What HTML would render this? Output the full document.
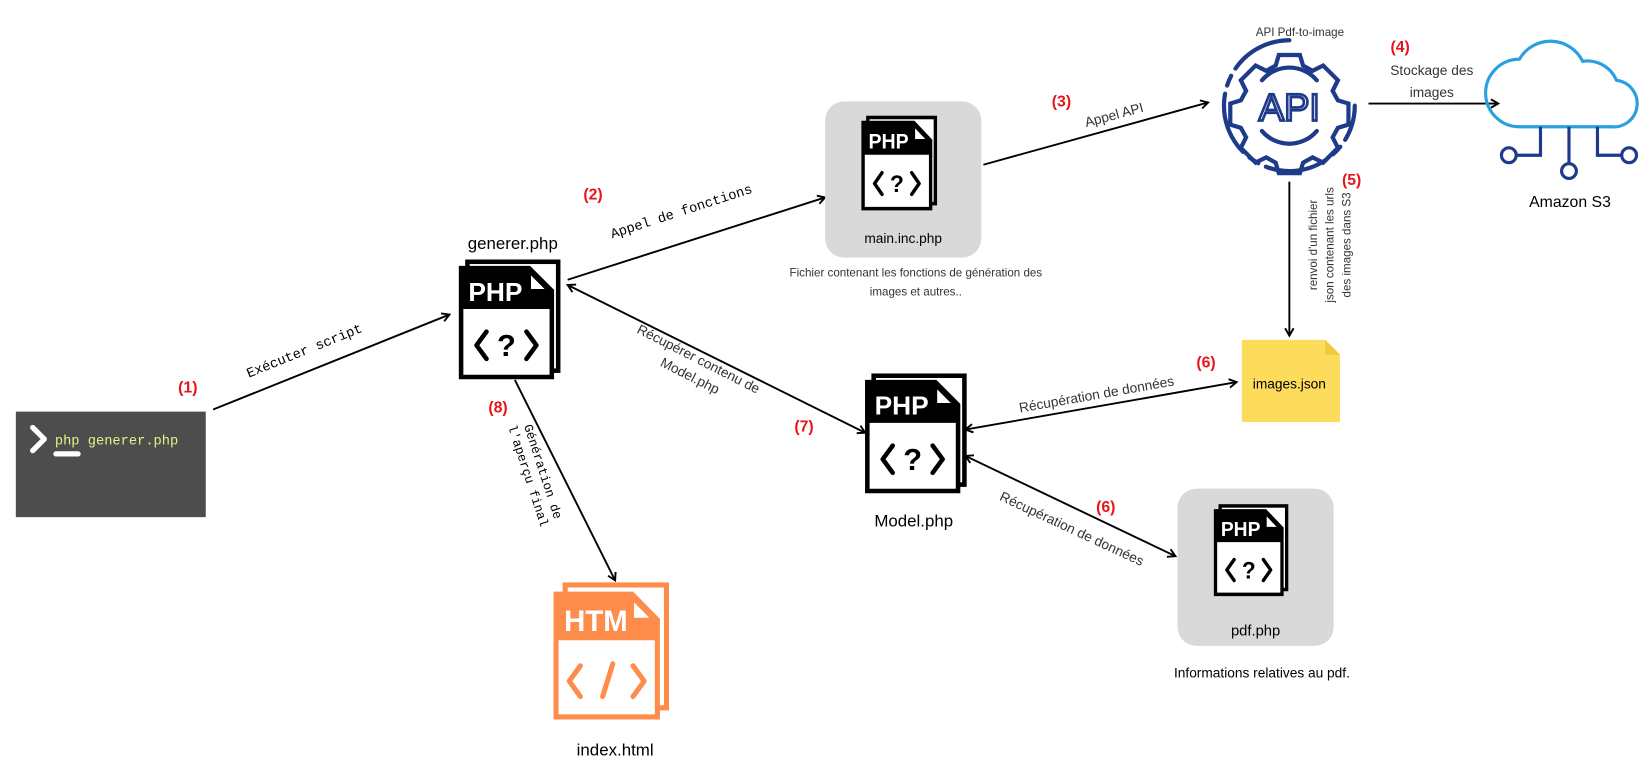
<!DOCTYPE html>
<html><head><meta charset="utf-8"><style>
html,body{margin:0;padding:0;background:#fff;width:1646px;height:780px;overflow:hidden}
svg{display:block}
.s{font-family:"Liberation Sans",sans-serif}
.m{font-family:"Liberation Mono",monospace}
.r{font-family:"Liberation Sans",sans-serif;font-weight:bold;fill:#e8141b;font-size:15px}
.g{fill:#333}
</style></head><body>
<svg width="1646" height="780" viewBox="0 0 1560 739" xmlns="http://www.w3.org/2000/svg">
<defs>
<marker id="a" markerWidth="10" markerHeight="10" refX="8" refY="5" orient="auto-start-reverse" markerUnits="userSpaceOnUse">
<path d="M1,1 L8,5 L1,9" fill="none" stroke="#000" stroke-width="1.8"/>
</marker>
<g id="php">
<rect x="7" y="-7" width="100" height="120" fill="#fff" stroke="#000" stroke-width="5"/>
<path d="M0,0 H75 L100,25 V120 H0 Z" fill="#fff" stroke="#000" stroke-width="5"/>
<path d="M0,0 H75 L100,25 V45 H0 Z" fill="#000"/>
<path d="M77,8 V23 H92 Z" fill="#fff"/>
<text x="8" y="36" font-family="Liberation Sans,sans-serif" font-weight="bold" font-size="29" fill="#fff">PHP</text>
<path d="M28,70 L17,85 L28,100 M72,70 L83,85 L72,100" fill="none" stroke="#000" stroke-width="5" stroke-linecap="round" stroke-linejoin="round"/>
<text x="50" y="97" text-anchor="middle" font-family="Liberation Sans,sans-serif" font-weight="bold" font-size="34" fill="#000">?</text>
</g>
<g id="htm">
<rect x="9" y="-9" width="100" height="120" fill="#fff" stroke="#fe8c4b" stroke-width="5"/>
<path d="M0,0 H75 L100,25 V120 H0 Z" fill="#fff" stroke="#fe8c4b" stroke-width="5"/>
<path d="M0,0 H75 L100,25 V45 H0 Z" fill="#fe8c4b"/>
<path d="M77,8 V23 H92 Z" fill="#fff"/>
<text x="8" y="36" font-family="Liberation Sans,sans-serif" font-weight="bold" font-size="29" fill="#fff">HTM</text>
<path d="M24,70 L13,85 L24,100 M76,70 L87,85 L76,100 M56,68 L46,100" fill="none" stroke="#fe8c4b" stroke-width="5" stroke-linecap="round" stroke-linejoin="round"/>
</g>
</defs>

<!-- terminal -->
<rect x="15" y="390" width="180" height="100" fill="#4d4d4d"/>
<path d="M31,405 L42,416 L31,427" fill="none" stroke="#fff" stroke-width="5" stroke-linecap="round" stroke-linejoin="round"/>
<line x1="53" y1="430" x2="74" y2="430" stroke="#fff" stroke-width="5" stroke-linecap="round"/>
<text x="52" y="421" class="m" font-size="13" fill="#e8f08c">php generer.php</text>

<!-- connectors -->
<g stroke="#000" stroke-width="1.8" fill="none">
<line x1="202" y1="388" x2="426" y2="298" marker-end="url(#a)"/>
<line x1="538" y1="265" x2="782" y2="187" marker-end="url(#a)"/>
<line x1="932" y1="156" x2="1145" y2="97" marker-end="url(#a)"/>
<line x1="1297" y1="98" x2="1420" y2="98" marker-end="url(#a)"/>
<line x1="1222" y1="172" x2="1222" y2="318" marker-end="url(#a)"/>
<line x1="915" y1="407" x2="1172" y2="362" marker-start="url(#a)" marker-end="url(#a)"/>
<line x1="915" y1="432" x2="1114" y2="527" marker-start="url(#a)" marker-end="url(#a)"/>
<line x1="538" y1="270" x2="820" y2="410" marker-start="url(#a)" marker-end="url(#a)"/>
<line x1="488" y1="360" x2="583" y2="550" marker-end="url(#a)"/>
</g>

<!-- labels -->
<text class="r" x="178" y="372" text-anchor="middle">(1)</text>
<text class="m" font-size="13" transform="translate(290,336) rotate(-22)" text-anchor="middle">Exécuter script</text>
<text class="r" x="562" y="189" text-anchor="middle">(2)</text>
<text class="m" font-size="13" transform="translate(647,204) rotate(-18)" text-anchor="middle">Appel de fonctions</text>
<text class="r" x="1006" y="101" text-anchor="middle">(3)</text>
<text class="s g" font-size="13" transform="translate(1057,113) rotate(-15)" text-anchor="middle">Appel API</text>
<text class="r" x="1327" y="49" text-anchor="middle">(4)</text>
<text class="s g" font-size="13" x="1357" y="71" text-anchor="middle">Stockage des</text>
<text class="s g" font-size="13" x="1357" y="92" text-anchor="middle">images</text>
<text class="r" x="1281" y="175" text-anchor="middle">(5)</text>
<g class="s g" font-size="11" text-anchor="middle">
<text transform="translate(1248,232) rotate(-90)">renvoi d'un fichier</text>
<text transform="translate(1264,232) rotate(-90)">json contenant les urls</text>
<text transform="translate(1280,232) rotate(-90)">des images dans S3</text>
</g>
<text class="r" x="1143" y="348" text-anchor="middle">(6)</text>
<text class="s g" font-size="13" transform="translate(1040,378) rotate(-10)" text-anchor="middle">Récupération de données</text>
<text class="r" x="1048" y="485" text-anchor="middle">(6)</text>
<text class="s g" font-size="13" transform="translate(1014,505) rotate(25)" text-anchor="middle">Récupération de données</text>
<text class="r" x="762" y="409" text-anchor="middle">(7)</text>
<text class="s g" font-size="13" transform="translate(660,344) rotate(27)" text-anchor="middle">Récupérer contenu de</text>
<text class="s g" font-size="13" transform="translate(652,360) rotate(27)" text-anchor="middle">Model.php</text>
<text class="r" x="472" y="391" text-anchor="middle">(8)</text>
<text class="m" font-size="12" transform="translate(511,448) rotate(72)" text-anchor="middle">Génération de</text>
<text class="m" font-size="12" transform="translate(497,452) rotate(72)" text-anchor="middle">l'aperçu final</text>

<!-- generer -->
<text class="s" font-size="16" x="486" y="236" text-anchor="middle">generer.php</text>
<use href="#php" transform="translate(437,254) scale(0.86,0.86)"/>

<!-- main -->
<rect x="782" y="96" width="148" height="148" rx="18" fill="#d9d9d9"/>
<use href="#php" transform="translate(818,116) scale(0.64,0.68)"/>
<text class="s" font-size="13" x="856" y="230" text-anchor="middle">main.inc.php</text>
<text class="s g" font-size="11" x="868" y="262" text-anchor="middle">Fichier contenant les fonctions de génération des</text>
<text class="s g" font-size="11" x="868" y="280" text-anchor="middle">images et autres..</text>

<!-- model -->
<use href="#php" transform="translate(822,362) scale(0.86,0.86)"/>
<text class="s" font-size="16" x="866" y="499" text-anchor="middle">Model.php</text>

<!-- pdf -->
<rect x="1116" y="463" width="148" height="149" rx="18" fill="#d9d9d9"/>
<use href="#php" transform="translate(1152,484) scale(0.63,0.66)"/>
<text class="s" font-size="14" x="1190" y="602" text-anchor="middle">pdf.php</text>
<text class="s" font-size="13" x="1196" y="642" text-anchor="middle">Informations relatives au pdf.</text>

<!-- index -->
<use href="#htm" transform="translate(527,563) scale(0.96,0.97)"/>
<text class="s" font-size="16" x="583" y="716" text-anchor="middle">index.html</text>

<!-- images.json -->
<path d="M1177,322 H1256 L1270,336 V400 H1177 Z" fill="#fddc5c"/>
<path d="M1256,322 V336 H1270 Z" fill="#f3c63c"/>
<text class="s" font-size="13" x="1222" y="368" text-anchor="middle">images.json</text>

<!-- API -->
<text class="s g" font-size="11" x="1232" y="34" text-anchor="middle">API Pdf-to-image</text>
<g fill="none" stroke="#1e3a8a" stroke-width="4" stroke-linecap="round">
<path d="M1222,38 A62,62 0 1 0 1284,100" stroke-dasharray="60 8 10 8"/>
<path d="M1212,52 h20 l3,10 l9,5 l10,-5 l14,14 l-5,10 l5,9 l10,3 v20 l-10,3 l-5,9 l5,10 l-14,14 l-10,-5 l-9,5 l-3,10 h-20 l-3,-10 l-9,-5 l-10,5 l-14,-14 l5,-10 l-5,-9 l-10,-3 v-20 l10,-3 l5,-9 l-5,-10 l14,-14 l10,5 l9,-5 z"/>
<path d="M1196,76 A34,34 0 0 1 1248,76 M1196,124 A34,34 0 0 0 1248,124"/>
</g>
<text x="1222" y="114" text-anchor="middle" class="s" font-size="36" fill="none" stroke="#1e3a8a" stroke-width="2.5">API</text>

<!-- cloud -->
<path d="M1440,120 H1527 A22,22 0 0 0 1532,76 A30,30 0 0 0 1500,58 A34,34 0 0 0 1440,56 A32,32 0 0 0 1440,120 Z" fill="none" stroke="#2aa0e0" stroke-width="3"/>
<g fill="none" stroke="#1e3a8a" stroke-width="3">
<path d="M1460,120 V147 H1438"/>
<circle cx="1430" cy="147" r="7"/>
<path d="M1487,120 V155"/>
<circle cx="1487" cy="162" r="7"/>
<path d="M1514,120 V147 H1536"/>
<circle cx="1544" cy="147" r="7"/>
</g>
<text class="s" font-size="15" x="1488" y="196" text-anchor="middle">Amazon S3</text>
</svg>
</body></html>
